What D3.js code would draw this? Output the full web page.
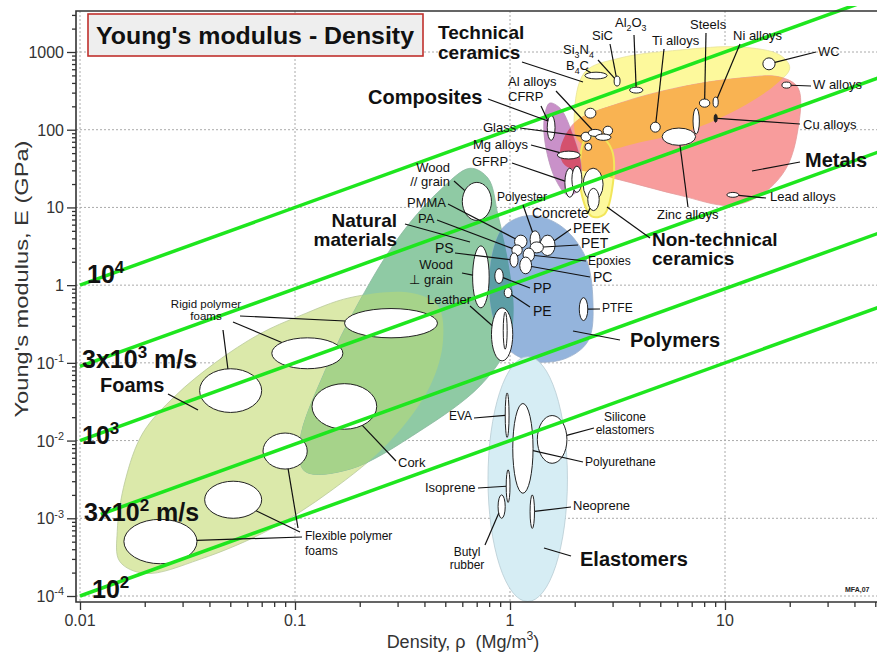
<!DOCTYPE html>
<html>
<head>
<meta charset="utf-8">
<script src="https://cdn.jsdelivr.net/npm/d3@7"></script>
<style>
body { margin: 0; background: #fff; }
text { font-family: "Liberation Sans", Arial, sans-serif; }
</style>
</head>
<body>
<svg id="chart" width="877" height="655"></svg>
<script>
// ---- data (density in Mg/m3, modulus in GPa) ----

var densityTicks = [0.01, 0.1, 1, 10];
var densityTickLabels = ["0.01", "0.1", "1", "10"];
var modulusTicks = [1e-4, 1e-3, 1e-2, 1e-1, 1, 10, 100, 1000];
var modulusTickLabels = ["10^-4", "10^-3", "10^-2", "10^-1", "1", "10", "100", "1000"];

// family envelopes, [density, modulus] outline points
var foamsEnvelope = [[0.0149,6.8e-4],[0.0162,0.0030],[0.0196,0.0125],[0.0277,0.0375],[0.0425,0.1],[0.0688,0.237],
  [0.1055,0.404],[0.180,0.69],[0.343,0.80],[0.462,0.543],[0.488,0.192],[0.425,0.0505],[0.277,0.00986],
  [0.146,0.00223],[0.0766,7.2e-4],[0.0361,2.96e-4],[0.0201,1.95e-4],[0.0153,2.79e-4]];
var naturalEnvelope = [[0.652,31.9],[0.791,23.7],[0.880,7.88],[0.979,2.07],[1.04,0.469],[0.979,0.166],[0.725,0.0505],
  [0.381,0.0133],[0.180,0.00429],[0.111,0.00404],[0.1055,0.00986],[0.138,0.0789],[0.200,0.631],[0.308,4.35],[0.472,16.6]];
var polymersEnvelope = [[1.24,7.88],[1.71,5.86],[2.23,2.40],[2.43,0.631],[2.31,0.192],[1.80,0.113],[1.24,0.106],
  [0.948,0.166],[0.807,0.631],[0.834,2.79],[0.948,5.86]];
var techCeramicsEnvelope = [[2.23,552],[3.25,837],[6.18,1061],[11.7,1161],[18.0,915],[20.0,622],[17.1,375],[11.7,189],
  [6.88,98.6],[4.03,69],[2.62,54.4],[2.07,73.3],[1.99,154]];
var metalsEnvelope = [[1.71,54.4],[2.01,125],[3.25,220],[6.18,353],[11.7,462],[18.0,476],[21.9,343],[21.6,85],[19.0,30.0],
  [14.6,14.3],[10.5,10.6],[6.18,14.3],[3.61,21.0],[2.36,28.3],[1.80,34.8]];
var compositesEnvelope = [[1.53,220],[1.71,189],[1.94,92.9],[2.14,34.8],[2.07,16.6],[1.86,14.3],[1.62,23.7],[1.45,73.3],[1.45,154]];
var nonTechEnvelope = [[2.23,73.3],[2.62,82.4],[2.98,54.4],[2.98,16.6],[2.74,8.13],[2.40,7.65],[2.16,14.3],[2.12,40.4]];
var elastomersBounds = {rho: [0.79, 1.85], E: [8.5e-5, 0.12]};

// material property bubbles
var foamMaterials = [
  {name: "Flexible foam A", rho: [0.016, 0.035], E: [2.6e-4, 9.7e-4]},
  {name: "Flexible foam B", rho: [0.038, 0.070], E: [0.0010, 0.0030]},
  {name: "Flexible foam C", rho: [0.071, 0.114], E: [0.0043, 0.0125]},
  {name: "Cork", rho: [0.12, 0.24], E: [0.014, 0.054]},
  {name: "Rigid foam A", rho: [0.036, 0.070], E: [0.023, 0.084]},
  {name: "Rigid foam B", rho: [0.078, 0.167], E: [0.084, 0.21]},
  {name: "Rigid foam C", rho: [0.17, 0.46], E: [0.21, 0.50]}
];
var naturalMaterials = [
  {name: "Wood // grain", rho: [0.60, 0.82], E: [6.8, 21]},
  {name: "Wood ⊥ grain", rho: [0.67, 0.80], E: [0.51, 3.2]},
  {name: "Leather", rho: [0.82, 1.03], E: [0.106, 0.51]},
  {name: "Leather core", rho: [0.93, 0.97], E: [0.15, 0.45]}
];
var polymerMaterials = [
  {name: "PP", rho: [0.85, 0.93], E: [1.05, 1.63]},
  {name: "PE", rho: [0.94, 1.02], E: [0.69, 0.93]},
  {name: "PTFE", rho: [2.1, 2.3], E: [0.35, 0.69]},
  {name: "PMMA", rho: [1.05, 1.2], E: [3.0, 4.4]},
  {name: "PA", rho: [1.02, 1.14], E: [2.4, 3.3]},
  {name: "Polyester", rho: [1.24, 1.38], E: [3.0, 5.0]},
  {name: "PEEK", rho: [1.38, 1.62], E: [2.4, 4.4]},
  {name: "PET", rho: [1.24, 1.43], E: [2.6, 3.6]},
  {name: "Epoxies", rho: [1.15, 1.3], E: [2.0, 3.0]},
  {name: "PC", rho: [1.11, 1.26], E: [1.4, 2.3]},
  {name: "PS", rho: [1.0, 1.09], E: [1.7, 2.6]}
];
var elastomerMaterials = [
  {name: "EVA", rho: [0.95, 0.99], E: [0.011, 0.041]},
  {name: "Polyurethane", rho: [1.03, 1.28], E: [0.0021, 0.030]},
  {name: "Silicone", rho: [1.34, 1.84], E: [0.0051, 0.021]},
  {name: "Isoprene", rho: [0.96, 1.0], E: [0.0016, 0.0042]},
  {name: "Butyl rubber", rho: [0.88, 0.95], E: [0.0010, 0.0020]},
  {name: "Neoprene", rho: [1.24, 1.30], E: [7.4e-4, 0.0020]}
];
var hardMaterials = [
  {name: "CFRP", rho: [1.49, 1.62], E: [73, 154]},
  {name: "Mg alloys", rho: [1.66, 2.12], E: [42, 53]},
  {name: "GFRP", rho: [1.8, 2.0], E: [13.5, 32]},
  {name: "GFRP 2", rho: [1.94, 2.16], E: [15.6, 34]},
  {name: "Brick", rho: [2.19, 2.71], E: [12.3, 32]},
  {name: "Concrete", rho: [2.3, 2.6], E: [9.1, 17.6]},
  {name: "B4C", rho: [2.23, 2.83], E: [450, 550]},
  {name: "SiC", rho: [3.05, 3.25], E: [365, 490]},
  {name: "Al2O3", rho: [3.6, 4.15], E: [296, 353]},
  {name: "Silica", rho: [2.23, 2.51], E: [141, 189]},
  {name: "Glass", rho: [2.14, 2.38], E: [71, 93]},
  {name: "Al alloys", rho: [2.31, 2.68], E: [82, 101]},
  {name: "Al alloys 2", rho: [2.71, 3.0], E: [85, 111]},
  {name: "Al alloys 3", rho: [2.5, 2.95], E: [73, 88]},
  {name: "Glass 2", rho: [2.23, 2.4], E: [54, 67]},
  {name: "Ti alloys", rho: [4.5, 5.0], E: [93, 125]},
  {name: "Zinc alloys", rho: [5.1, 7.3], E: [63, 105]},
  {name: "Cast irons", rho: [7.1, 7.6], E: [88, 190]},
  {name: "Steels", rho: [7.6, 8.5], E: [195, 248]},
  {name: "Ni alloys", rho: [8.8, 9.3], E: [195, 263]},
  {name: "Cu alloys", rho: [8.9, 9.2], E: [125, 158]},
  {name: "WC", rho: [15, 17.1], E: [590, 840]},
  {name: "W alloys", rho: [18.4, 20.3], E: [343, 410]},
  {name: "Lead alloys", rho: [10.2, 11.6], E: [13.5, 15.6]}
];

// wave speed guide lines (m/s), sqrt(E/rho)
var guideSpeeds = [1e4, 3e3, 1e3, 3e2, 1e2];
var guideStartDensity = [0.01, 0.01, 0.01, 0.0125, 0.01];
var guideLabels = ["10^4", "3x10^3 m/s", "10^3", "3x10^2 m/s", "10^2"];

// ---- layout ----
var svg = d3.select("#chart");
var plot = {left: 76, top: 11, right: 880, bottom: 602};

var x = d3.scaleLog().domain([0.01, 10]).range([80, 725]);
var y = d3.scaleLog().domain([1e-4, 1000]).range([596, 52]);

// writes "10^-4", "Si_3N_4" with super/subscripts
function rich(t, str) {
  var fs = parseFloat(t.attr("font-size")), re = /([_^])(-?\d)/g, last = 0, shift = 0, m;
  while ((m = re.exec(str))) {
    if (m.index > last) { t.append("tspan").attr("dy", -shift).text(str.slice(last, m.index)); shift = 0; }
    var d = m[1] == "^" ? -0.42 * fs : 0.28 * fs;
    t.append("tspan").attr("dy", d - shift).attr("font-size", fs * 0.68).text(m[2]);
    shift = d;
    last = re.lastIndex;
  }
  if (last < str.length) t.append("tspan").attr("dy", -shift).text(str.slice(last));
}

var defs = svg.append("defs");
defs.append("clipPath").attr("id", "plotclip").append("rect")
  .attr("x", plot.left).attr("y", 6).attr("width", plot.right - plot.left).attr("height", plot.bottom - 6);

var outline = d3.line()
  .x(function(d) { return x(d[0]); })
  .y(function(d) { return y(d[1]); })
  .curve(d3.curveCatmullRomClosed.alpha(0.5));

function clip(id, pts) {
  defs.append("clipPath").attr("id", id).append("path").attr("d", outline(pts));
}
clip("c-foams", foamsEnvelope);
clip("c-natural", naturalEnvelope);
clip("c-metals", metalsEnvelope);
clip("c-tech", techCeramicsEnvelope);
clip("c-nontech", nonTechEnvelope);

// grid
var grid = svg.append("g").attr("stroke", "#aaa").attr("stroke-dasharray", "2,2").attr("stroke-width", 1);
modulusTicks.forEach(function(v) {
  grid.append("line").attr("x1", plot.left).attr("x2", plot.right).attr("y1", y(v)).attr("y2", y(v));
});
densityTicks.forEach(function(v) {
  grid.append("line").attr("y1", plot.top).attr("y2", plot.bottom).attr("x1", x(v)).attr("x2", x(v));
});

// envelopes
var env = svg.append("g").attr("clip-path", "url(#plotclip)");
function envelope(pts, fill, clipId, stroke) {
  var p = env.append("path").attr("d", outline(pts)).attr("fill", fill)
    .attr("stroke", stroke || "none").attr("stroke-width", 0.8);
  if (clipId) p.attr("clip-path", "url(#" + clipId + ")");
  return p;
}
envelope(foamsEnvelope, "#dbe9aa", null, "#b9c99a");
envelope(naturalEnvelope, "#8fcaa4", null, "#8ab8a0");
envelope(naturalEnvelope, "#a6d38a", "c-foams");
envelope(polymersEnvelope, "#94b4dc", null, "#9ab0cc");
envelope(polymersEnvelope, "#5d9ea6", "c-natural");
env.append("ellipse")
  .attr("cx", (x(elastomersBounds.rho[0]) + x(elastomersBounds.rho[1])) / 2)
  .attr("cy", (y(elastomersBounds.E[0]) + y(elastomersBounds.E[1])) / 2)
  .attr("rx", (x(elastomersBounds.rho[1]) - x(elastomersBounds.rho[0])) / 2)
  .attr("ry", (y(elastomersBounds.E[0]) - y(elastomersBounds.E[1])) / 2)
  .attr("fill", "#d6edf4").attr("stroke", "#b8ccd3").attr("stroke-width", 0.8);
envelope(techCeramicsEnvelope, "#fdf99c", null, "#e9e39a");
envelope(metalsEnvelope, "#f89c9c", null, "#e59a9a");
envelope(metalsEnvelope, "#f9b352", "c-tech");
envelope(nonTechEnvelope, "#fdf99c");
envelope(metalsEnvelope, "#f9b352", "c-nontech");
env.append("path").attr("d", outline(nonTechEnvelope)).attr("fill", "none")
  .attr("stroke", "#f2e65a").attr("stroke-width", 2);
envelope(compositesEnvelope, "#c991c9", null, "#b993b9");
envelope(compositesEnvelope, "#d4516d", "c-metals");

// material bubbles
var allMaterials = foamMaterials.concat(naturalMaterials, polymerMaterials, elastomerMaterials, hardMaterials);
var bubbleByName = {};
allMaterials.forEach(function(d) {
  d.cx = (x(d.rho[0]) + x(d.rho[1])) / 2;
  d.cy = (y(d.E[0]) + y(d.E[1])) / 2;
  d.rx = (x(d.rho[1]) - x(d.rho[0])) / 2;
  d.ry = (y(d.E[0]) - y(d.E[1])) / 2;
  bubbleByName[d.name] = d;
});
svg.append("g").selectAll("ellipse")
  .data(allMaterials)
  .enter().append("ellipse")
  .attr("cx", function(d) { return d.cx; })
  .attr("cy", function(d) { return d.cy; })
  .attr("rx", function(d) { return d.rx; })
  .attr("ry", function(d) { return d.ry; })
  .attr("fill", function(d) { return d.name == "Cu alloys" ? "#222" : "#fff"; })
  .attr("stroke", "#222")
  .attr("stroke-width", 1);

// guide lines
var guides = svg.append("g").attr("clip-path", "url(#plotclip)");
guideSpeeds.forEach(function(v, i) {
  var k = v * v / 1e6, r0 = guideStartDensity[i], r1 = 60;
  guides.append("line")
    .attr("x1", x(r0)).attr("y1", y(k * r0))
    .attr("x2", x(r1)).attr("y2", y(k * r1))
    .attr("stroke", "#1ee61e").attr("stroke-width", 3.5);
});

// labels with leader lines
var materialLabels = [
  {t: ["Si_3N_4"], x: 563, y: 54, fs: 13, leaders: [[598, 60, "SiC"]]},
  {t: ["SiC"], x: 592, y: 40, fs: 13, leaders: [[610, 44, "SiC"]]},
  {t: ["Al_2O_3"], x: 615, y: 27, fs: 13, leaders: [[634, 35, "Al2O3"]]},
  {t: ["B_4C"], x: 566, y: 70, fs: 13, leaders: [[586, 70, "B4C"]]},
  {t: ["Ti alloys"], x: 652, y: 45, fs: 13, leaders: [[664, 49, "Ti alloys"]]},
  {t: ["Steels"], x: 690, y: 29, fs: 13, leaders: [[706, 33, "Steels"]]},
  {t: ["Ni alloys"], x: 733, y: 40, fs: 13, leaders: [[740, 44, "Ni alloys"]]},
  {t: ["WC"], x: 818, y: 56, fs: 13, leaders: [[816, 52, "WC"]]},
  {t: ["W alloys"], x: 813, y: 89, fs: 13, leaders: [[811, 86, "W alloys"]]},
  {t: ["Cu alloys"], x: 803, y: 129, fs: 13, leaders: [[800, 124, "Cu alloys"]]},
  {t: ["Lead alloys"], x: 770, y: 201, fs: 13, leaders: [[766, 198, "Lead alloys"]]},
  {t: ["Zinc alloys"], x: 657, y: 219, fs: 13, leaders: [[688, 207, "Zinc alloys"]]},
  {t: ["Al alloys"], x: 508, y: 86, fs: 13, leaders: [[556, 91, "Al alloys"]]},
  {t: ["CFRP"], x: 508, y: 101, fs: 13, leaders: [[541, 106, "CFRP"]]},
  {t: ["Glass"], x: 483, y: 132, fs: 13, leaders: [[520, 128, "Glass"]]},
  {t: ["Mg alloys"], x: 473, y: 149, fs: 13, leaders: [[531, 145, "Mg alloys"]]},
  {t: ["GFRP"], x: 472, y: 166, fs: 13, leaders: [[512, 163, "GFRP"]]},
  {t: ["Wood", "// grain"], x: 450, y: 172, lh: 14, anchor: "end", fs: 13, leaders: [[454, 181, "Wood // grain"]]},
  {t: ["PMMA"], x: 407, y: 207, fs: 13, leaders: [[448, 204, "PMMA"]]},
  {t: ["PA"], x: 418, y: 223, fs: 13, leaders: [[437, 220, "PA"]]},
  {t: ["PS"], x: 435, y: 253, fs: 14, leaders: [[455, 253, "PS"]]},
  {t: ["Wood", "⊥ grain"], x: 453, y: 269, lh: 15, anchor: "end", fs: 13, leaders: [[462, 273, "Wood ⊥ grain"]]},
  {t: ["Leather"], x: 427, y: 304, fs: 13, leaders: [[470, 306, "Leather"]]},
  {t: ["Polyester"], x: 497, y: 201, fs: 12, leaders: [[523, 205, "Polyester"]]},
  {t: ["Concrete"], x: 532, y: 218, fs: 14, leaders: [[588, 213, "Concrete"]]},
  {t: ["PEEK"], x: 573, y: 233, fs: 14, leaders: [[571, 229, "PEEK"]]},
  {t: ["PET"], x: 581, y: 248, fs: 14, leaders: [[578, 245, "PET"]]},
  {t: ["Epoxies"], x: 588, y: 265, fs: 12, leaders: [[586, 261, "Epoxies"]]},
  {t: ["PC"], x: 593, y: 282, fs: 14, leaders: [[590, 277, "PC"]]},
  {t: ["PP"], x: 533, y: 293, fs: 14, leaders: [[530, 288, "PP"]]},
  {t: ["PE"], x: 533, y: 316, fs: 14, leaders: [[530, 307, "PE"]]},
  {t: ["PTFE"], x: 602, y: 312, fs: 12, leaders: [[600, 309, "PTFE"]]},
  {t: ["Rigid polymer", "foams"], x: 206, y: 308, lh: 12, anchor: "middle", fs: 11.5,
    leaders: [[223, 330, "Rigid foam A"], [233, 322, "Rigid foam B"], [240, 316, "Rigid foam C"]]},
  {t: ["Cork"], x: 398, y: 467, fs: 13, leaders: [[396, 461, "Cork"]]},
  {t: ["Flexible polymer", "foams"], x: 305, y: 540, lh: 15, fs: 12,
    leaders: [[302, 537, "Flexible foam A"], [300, 532, "Flexible foam B"], [298, 528, "Flexible foam C"]]},
  {t: ["EVA"], x: 449, y: 420, fs: 12, leaders: [[474, 418, "EVA"]]},
  {t: ["Silicone", "elastomers"], x: 625, y: 421, lh: 13, anchor: "middle", fs: 12, leaders: [[594, 428, "Silicone"]]},
  {t: ["Polyurethane"], x: 585, y: 466, fs: 12, leaders: [[583, 462, "Polyurethane"]]},
  {t: ["Isoprene"], x: 425, y: 492, fs: 13, leaders: [[478, 488, "Isoprene"]]},
  {t: ["Neoprene"], x: 573, y: 510, fs: 13, leaders: [[571, 507, "Neoprene"]]},
  {t: ["Butyl", "rubber"], x: 467, y: 556, lh: 13, anchor: "middle", fs: 12, leaders: [[485, 545, "Butyl rubber"]]}
];
var familyLabels = [
  {t: ["Technical", "ceramics"], x: 438, y: 39, lh: 20, fs: 19, leaders: [[522, 62, 583, 82]]},
  {t: ["Composites"], x: 368, y: 104, fs: 20, leaders: [[488, 99, 548, 121]]},
  {t: ["Natural", "materials"], x: 397, y: 227, lh: 19, fs: 19, anchor: "end", leaders: [[405, 224, 470, 242]]},
  {t: ["Foams"], x: 100, y: 392, fs: 20, leaders: [[168, 394, 198, 410]]},
  {t: ["Polymers"], x: 630, y: 347, fs: 20, leaders: [[573, 331, 620, 340]]},
  {t: ["Elastomers"], x: 580, y: 566, fs: 20, leaders: [[544, 548, 571, 556]]},
  {t: ["Metals"], x: 805, y: 167, fs: 20, leaders: [[752, 171, 800, 162]]},
  {t: ["Non-technical", "ceramics"], x: 652, y: 246, lh: 19, fs: 19, leaders: [[607, 207, 650, 238]]}
];

var leaderG = svg.append("g").attr("stroke", "#111").attr("stroke-width", 1.2);
var labelG = svg.append("g").attr("fill", "#111");

// leader from label to bubble edge
materialLabels.forEach(function(l) {
  l.leaders.forEach(function(s) {
    var b = bubbleByName[s[2]], ux = s[0] - b.cx, uy = s[1] - b.cy;
    var k = 1 / Math.sqrt((ux / b.rx) * (ux / b.rx) + (uy / b.ry) * (uy / b.ry));
    leaderG.append("line").attr("x1", s[0]).attr("y1", s[1])
      .attr("x2", b.cx + ux * k).attr("y2", b.cy + uy * k);
  });
});
familyLabels.forEach(function(l) {
  l.leaders.forEach(function(s) {
    leaderG.append("line").attr("x1", s[0]).attr("y1", s[1]).attr("x2", s[2]).attr("y2", s[3]);
  });
});

function drawLabel(l, weight) {
  l.t.forEach(function(line, i) {
    var t = labelG.append("text")
      .attr("x", l.x).attr("y", l.y + i * (l.lh || 0))
      .attr("font-size", l.fs).attr("font-weight", weight)
      .attr("text-anchor", l.anchor || "start");
    rich(t, line);
  });
}
materialLabels.forEach(function(l) { drawLabel(l, "normal"); });
familyLabels.forEach(function(l) { drawLabel(l, "bold"); });

var guideLabelPos = [[87, 283], [82, 368], [82, 444], [84, 521], [92, 598]];
guideLabels.forEach(function(s, i) {
  var t = labelG.append("text").attr("x", guideLabelPos[i][0]).attr("y", guideLabelPos[i][1])
    .attr("font-size", 25).attr("font-weight", "bold");
  rich(t, s);
});

// axes
var axisG = svg.append("g").attr("color", "#333");
var yMinor = [], xMinor = [];
modulusTicks.forEach(function(d) {
  for (var k = 2; k <= 9; k++) if (y(k * d) >= plot.top) yMinor.push(k * d);
});
densityTicks.forEach(function(d) {
  for (var k = 2; k <= 9; k++) if (x(k * d) <= plot.right) xMinor.push(k * d);
});
axisG.append("g").attr("transform", "translate(" + plot.left + ",0)")
  .call(d3.axisLeft(y).tickValues(yMinor).tickSize(4).tickFormat(""))
  .call(function(g) { g.select(".domain").remove(); });
axisG.append("g").attr("transform", "translate(" + plot.left + ",0)")
  .call(d3.axisLeft(y).tickValues(modulusTicks).tickSize(9).tickFormat(""))
  .call(function(g) { g.select(".domain").remove(); });
axisG.append("g").attr("transform", "translate(0," + plot.bottom + ")")
  .call(d3.axisBottom(x).tickValues(xMinor).tickSize(5).tickFormat(""))
  .call(function(g) { g.select(".domain").remove(); });
axisG.append("g").attr("transform", "translate(0," + plot.bottom + ")")
  .call(d3.axisBottom(x).tickValues(densityTicks).tickSize(8).tickFormat(""))
  .call(function(g) { g.select(".domain").remove(); });
axisG.selectAll("line").attr("stroke-width", 1.3);

svg.append("path")
  .attr("d", "M" + plot.right + "," + plot.top + "H" + plot.left + "V" + plot.bottom + "H" + plot.right)
  .attr("fill", "none").attr("stroke", "#333").attr("stroke-width", 1.6);

modulusTicks.forEach(function(v, i) {
  var t = svg.append("text").attr("x", 64).attr("y", y(v) + 6)
    .attr("font-size", 16).attr("fill", "#333").attr("text-anchor", "end");
  rich(t, modulusTickLabels[i]);
});
densityTicks.forEach(function(v, i) {
  svg.append("text").attr("x", x(v)).attr("y", 626)
    .attr("font-size", 16).attr("fill", "#333").attr("text-anchor", "middle")
    .text(densityTickLabels[i]);
});

svg.append("text")
  .attr("transform", "translate(28,279) rotate(-90)")
  .attr("text-anchor", "middle").attr("font-size", 19).attr("fill", "#333")
  .attr("textLength", 277).attr("lengthAdjust", "spacingAndGlyphs")
  .text("Young's modulus, E (GPa)");
var xt = svg.append("text").attr("x", 463).attr("y", 648)
  .attr("text-anchor", "middle").attr("font-size", 18).attr("fill", "#333")
  .style("white-space", "pre");
rich(xt, "Density, ρ  (Mg/m^3)");

svg.append("text").attr("x", 845).attr("y", 592).attr("font-size", 7).attr("font-weight", "bold")
  .attr("fill", "#222").text("MFA,07");

// title box
svg.append("rect").attr("x", 88).attr("y", 14).attr("width", 335).attr("height", 42)
  .attr("fill", "#eeeeee").attr("stroke", "#c0302c").attr("stroke-width", 1.6);
svg.append("text").attr("x", 96).attr("y", 44).attr("font-size", 24).attr("font-weight", "bold")
  .attr("fill", "#111").attr("textLength", 318).attr("lengthAdjust", "spacingAndGlyphs")
  .text("Young's modulus - Density");
</script>
</body>
</html>
